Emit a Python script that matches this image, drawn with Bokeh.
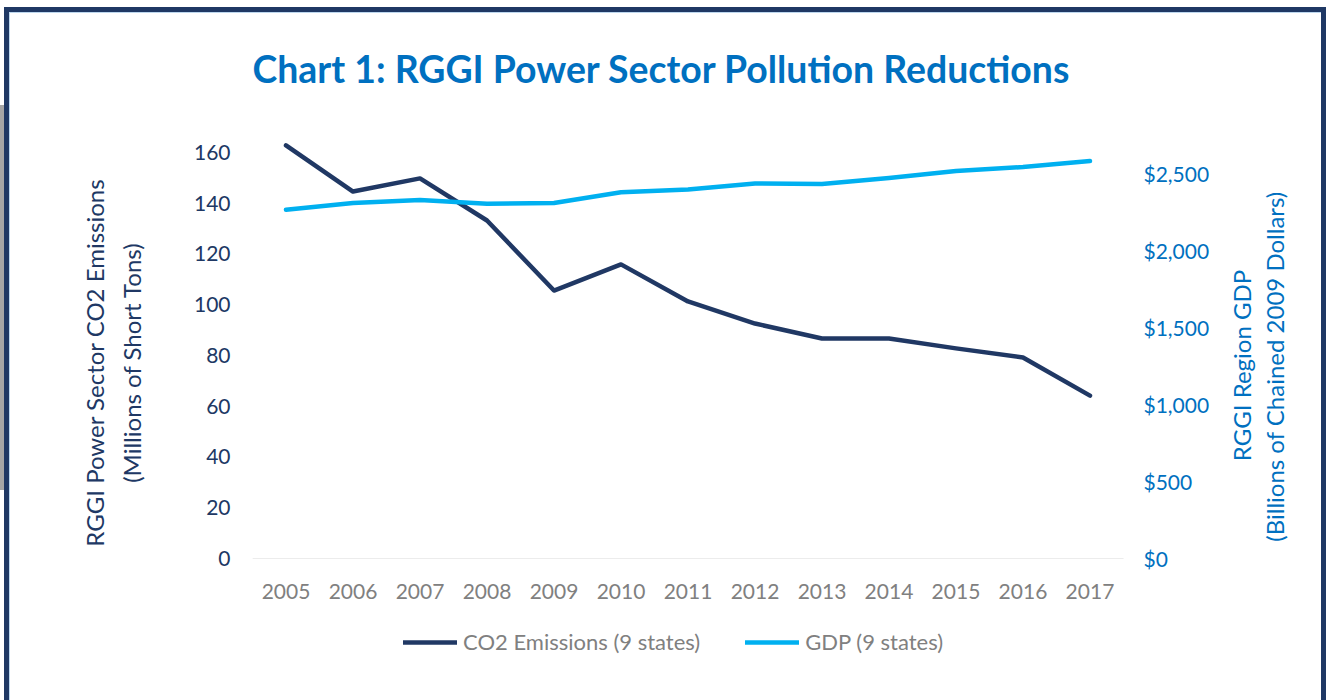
import math
from bokeh.plotting import figure
from bokeh.models import (Range1d, LinearAxis, FixedTicker, NumeralTickFormatter,
                          Legend, LegendItem, Label, BoxAnnotation)
from bokeh.embed import file_html
from bokeh.resources import INLINE

# ---- data ----
years = [2005, 2006, 2007, 2008, 2009, 2010, 2011, 2012, 2013, 2014, 2015, 2016, 2017]
co2_emissions = [162.8, 144.6, 149.8, 133.2, 105.6, 115.9, 101.3, 92.6, 86.7, 86.7, 82.8, 79.2, 64.2]
gdp = [2262, 2305, 2325, 2300, 2306, 2375, 2393, 2432, 2428, 2467, 2513, 2539, 2578]
left_ticks = [0, 20, 40, 60, 80, 100, 120, 140, 160]
right_ticks = [0, 500, 1000, 1500, 2000, 2500]

title_text = "Chart 1: RGGI Power Sector Pollution Reductions"
left_title = "RGGI Power Sector CO2 Emissions\n(Millions of Short Tons)"
right_title = ["RGGI Region GDP", "(Billions of Chained 2009 Dollars)"]
series_names = ["CO2 Emissions (9 states)", "GDP (9 states)"]

FONT = "Lato"
NAVY = "#203864"
CYAN = "#00B0F0"
BLUE = "#0070C0"
GRAY = "#808080"
FRAME = "#1F3864"
PALE = "#BDD7EE"

bands = ", ".join([
    f"linear-gradient({FRAME},{FRAME}) 4px 7px / 1322px 5px no-repeat",
    f"linear-gradient({FRAME},{FRAME}) 4px 7px / 5px 700px no-repeat",
    f"linear-gradient({FRAME},{FRAME}) 1321px 7px / 5px 700px no-repeat",
    f"linear-gradient({PALE},{PALE}) 9px 12px / 1312px 1px no-repeat",
    f"linear-gradient({PALE},{PALE}) 9px 12px / 1px 690px no-repeat",
    "linear-gradient(#A6A6A6,#A6A6A6) 0px 105px / 4px 385px no-repeat",
])

# plot frame spans x 252..1316, y 40..684 (page pixels)
p = figure(frame_width=1064, frame_height=644, output_backend="svg", toolbar_location=None,
           x_range=Range1d(2004.5, 2020.381), y_range=Range1d(-49.66, 204.14),
           min_border_left=252, min_border_right=10,
           min_border_top=40, min_border_bottom=16,
           styles={"background": bands + ", white"})
p.outline_line_color = None
p.border_fill_color = None
p.background_fill_color = "white"
p.xgrid.visible = False
p.ygrid.visible = False

p.extra_y_ranges = {"gdp": Range1d(-817.1, 3359.3)}
raxis = LinearAxis(y_range_name="gdp", ticker=FixedTicker(ticks=right_ticks),
                   formatter=NumeralTickFormatter(format="$0,0"), fixed_location=2017.5)
p.add_layout(raxis, "right")

laxis = p.left[0]
laxis.ticker = FixedTicker(ticks=left_ticks)

for ax, col, so in ((laxis, NAVY, 22), (raxis, BLUE, 20)):
    ax.axis_line_color = None
    ax.major_tick_line_color = None
    ax.minor_tick_line_color = None
    ax.major_tick_out = 0
    ax.major_tick_in = 0
    ax.major_label_text_font = FONT
    ax.major_label_text_font_size = "21px"
    ax.major_label_text_color = col
    ax.major_label_standoff = so

laxis.axis_label = left_title
laxis.axis_label_text_font = FONT
laxis.axis_label_text_font_size = "24px"
laxis.axis_label_text_font_style = "normal"
laxis.axis_label_text_color = NAVY
laxis.axis_label_text_line_height = 1.28
laxis.axis_label_standoff = 45

xaxis = p.below[0]
xaxis.fixed_location = 0
xaxis.ticker = FixedTicker(ticks=years)
xaxis.major_label_overrides = {y: str(y) for y in years}
xaxis.axis_line_color = None
xaxis.major_tick_line_color = None
xaxis.minor_tick_line_color = None
xaxis.major_tick_out = 0
xaxis.major_tick_in = 0
xaxis.major_label_text_font = FONT
xaxis.major_label_text_font_size = "21px"
xaxis.major_label_text_color = GRAY
xaxis.major_label_standoff = 26

# zero gridline across the category area
p.add_layout(BoxAnnotation(left=2004.5, right=2017.5, bottom=0, top=0,
                           fill_alpha=0, line_color="#D9D9D9", line_width=1))

r1 = p.line(years, co2_emissions, line_color=NAVY, line_width=4.5,
            line_join="round", line_cap="round")
r2 = p.line(years, gdp, y_range_name="gdp", line_color=CYAN, line_width=4.5,
            line_join="round", line_cap="round")

legend = Legend(items=[LegendItem(label=series_names[0], renderers=[r1]),
                       LegendItem(label=series_names[1], renderers=[r2])],
                location=(151, 29), orientation="horizontal",
                glyph_width=54, glyph_height=20, label_height=20,
                label_standoff=6, spacing=45, padding=0, margin=0,
                border_line_color=None, background_fill_alpha=0,
                label_text_font=FONT, label_text_font_size="22px",
                label_text_color=GRAY)
p.add_layout(legend)

# chart title
p.add_layout(Label(x=252, y=67.5, x_units="canvas", y_units="canvas", text=title_text,
                   text_align="left", text_baseline="alphabetic",
                   text_font=FONT, text_font_size="37.4px", text_font_style="bold",
                   text_color=BLUE))

# right axis title (two centred lines, reading upward)
for x, y, txt in ((1241, 365, right_title[0]), (1274, 366, right_title[1])):
    p.add_layout(Label(x=x, y=y, x_units="canvas", y_units="canvas", text=txt,
                       angle=math.pi / 2, text_align="center", text_baseline="middle",
                       text_font=FONT, text_font_size="24px", text_color=BLUE))

open("out.html", "w").write(file_html(p, INLINE))
